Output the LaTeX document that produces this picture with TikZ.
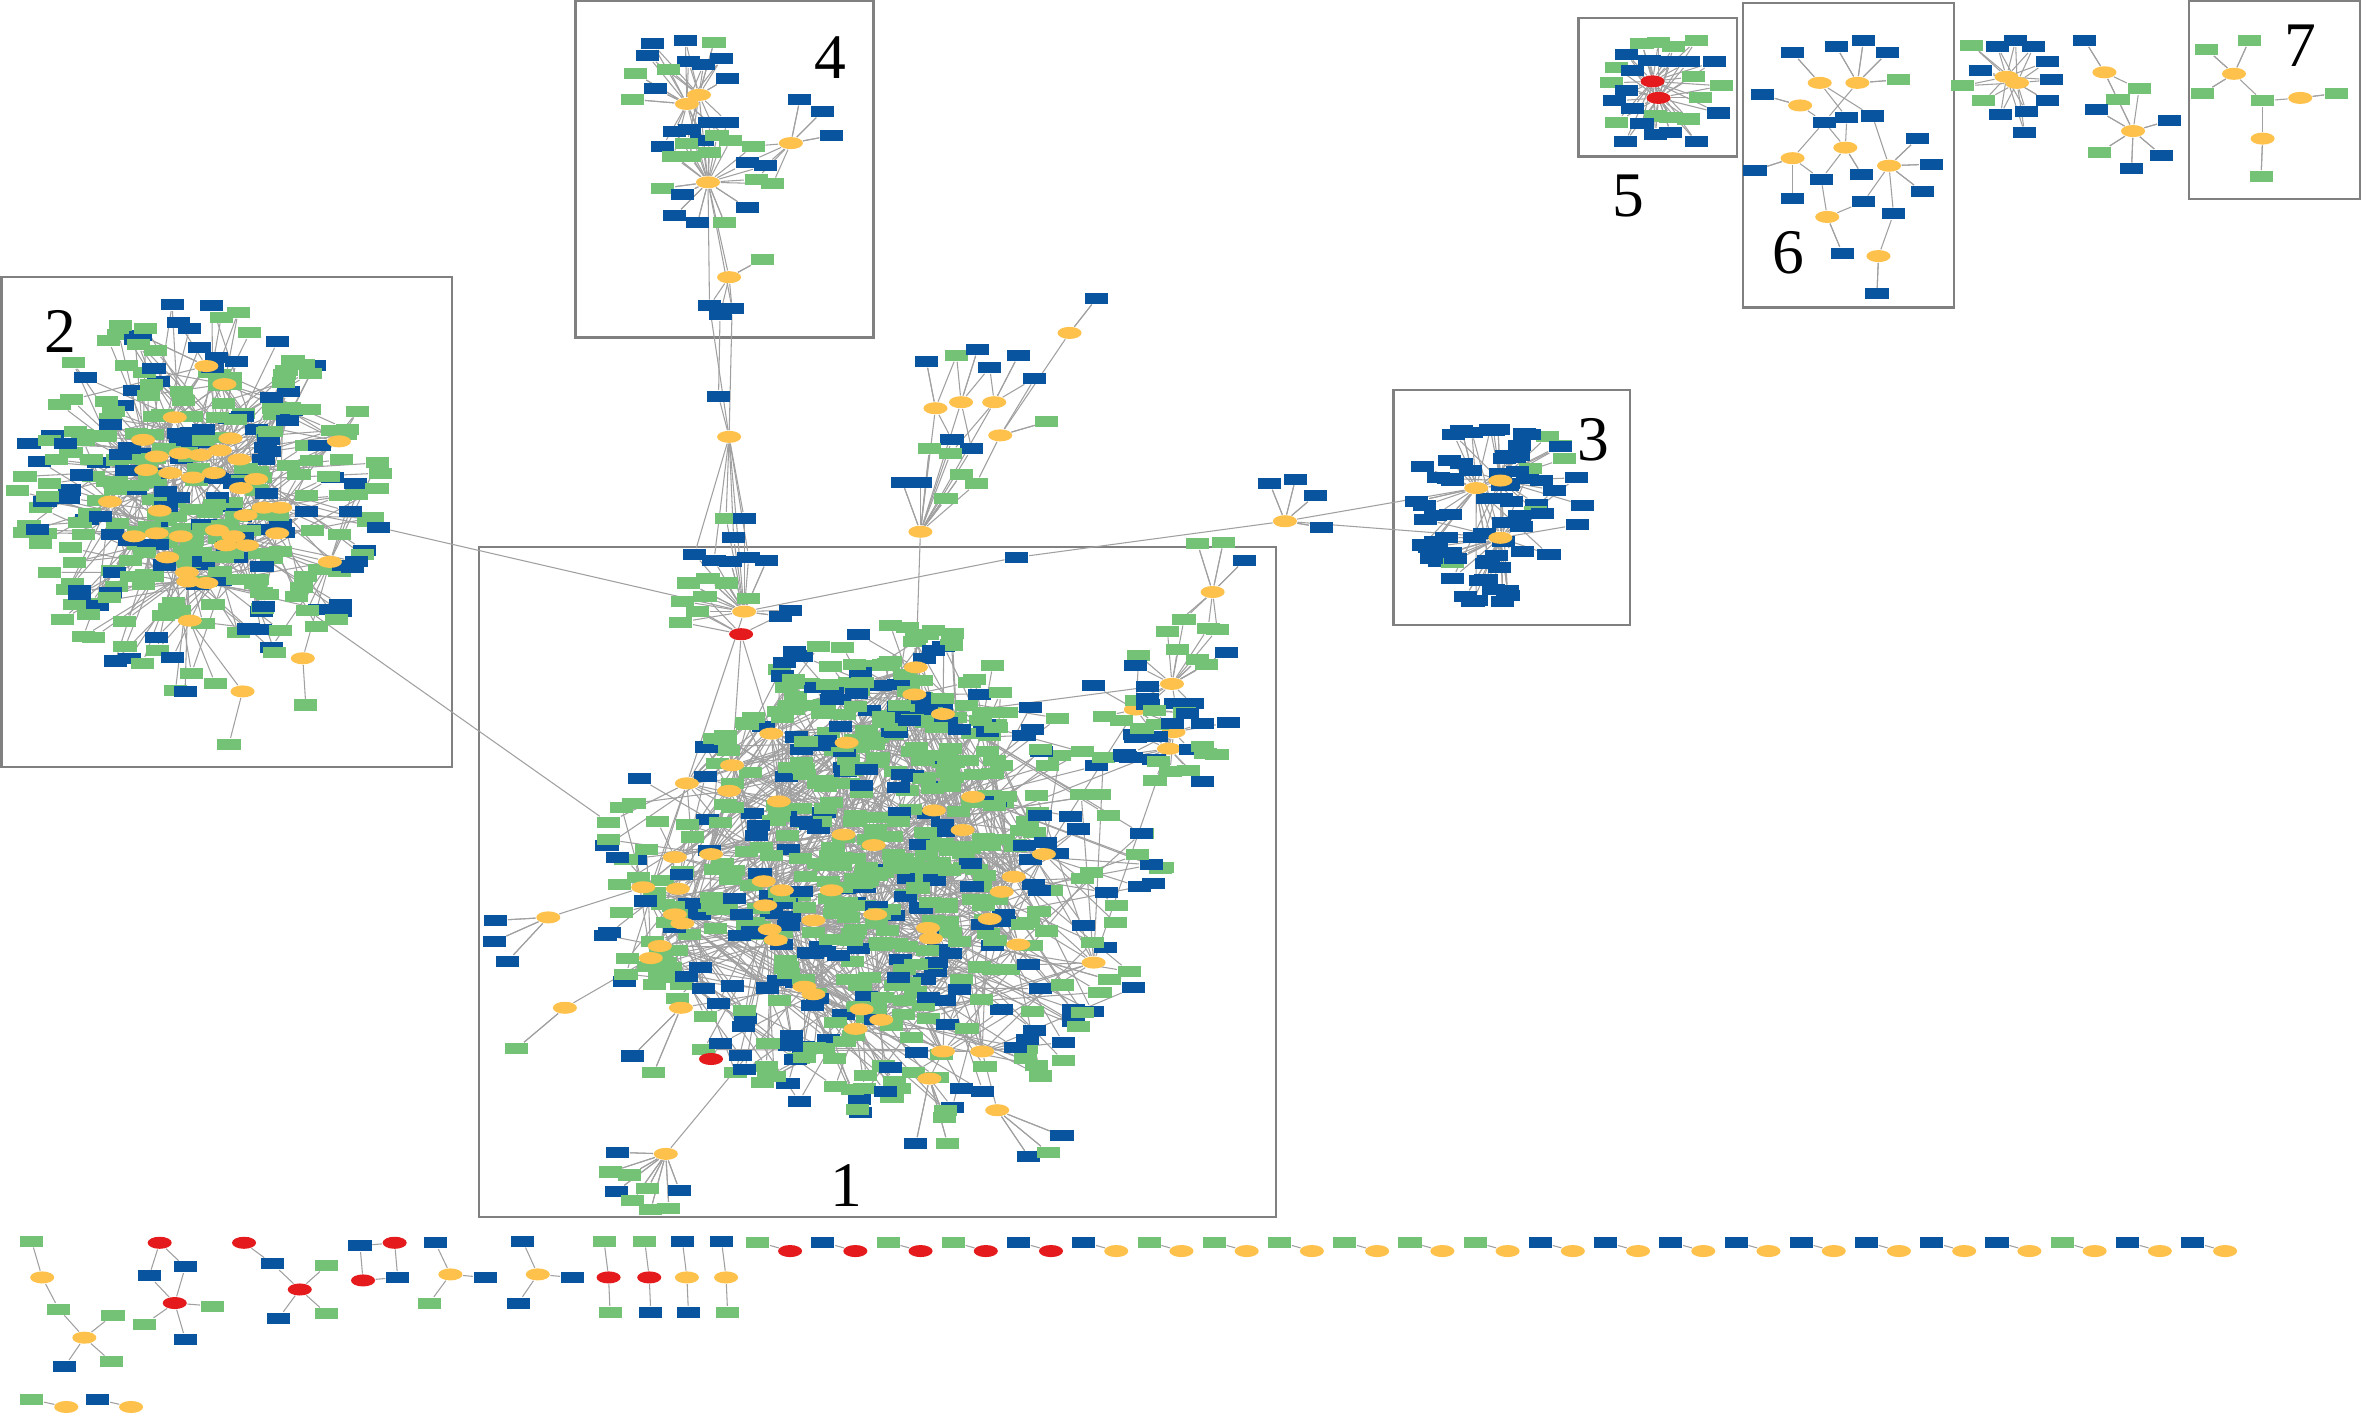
\documentclass[tikz,border=0pt]{standalone}
\usepackage{fontspec}
\setmainfont{Liberation Serif}
\usetikzlibrary{shapes.geometric}
\definecolor{leafgreen}{RGB}{115,194,117}
\definecolor{leafblue}{RGB}{9,84,159}
\definecolor{huborange}{RGB}{254,194,76}
\definecolor{hubred}{RGB}{228,26,28}
\definecolor{linkgray}{RGB}{160,160,160}
\definecolor{framegray}{RGB}{128,128,128}
\pgfdeclarelayer{links}
\pgfdeclarelayer{front}
\pgfsetlayers{links,main,front}
\tikzset{gene/.style={rectangle,minimum width=0.23cm,minimum height=0.11cm,inner sep=0pt}}
\tikzset{geneg/.style={gene,fill=leafgreen}}
\tikzset{geneb/.style={gene,fill=leafblue}}
\tikzset{hub/.style={ellipse,minimum width=0.24cm,minimum height=0.12cm,inner sep=0pt}}
\tikzset{hubo/.style={hub,fill=huborange}}
\tikzset{hubr/.style={hub,fill=hubred}}
\tikzset{link/.style={draw=linkgray,line width=0.3pt}}
\tikzset{frame/.style={draw=framegray,line width=0.7pt}}
\tikzset{tag/.style={font=\fontsize{18}{18}\selectfont,inner sep=0pt}}
% links are collected, then drawn behind the nodes in one go
\gdef\linklist{}
\newcommand{\addlink}[2]{%
  \ifx\linklist\empty\xdef\linklist{#1/#2}\else\xdef\linklist{\linklist,#1/#2}\fi}
\newcommand{\flushlinks}{%
  \begin{pgfonlayer}{links}
  \foreach \la/\lb in \linklist {\draw[link] (\la) -- (\lb);}
  \end{pgfonlayer}
  \gdef\linklist{}}
\def\cloudpow{0.75}
% hubs from a list x/y
\newcommand{\hubs}[2]{%
  \begin{pgfonlayer}{front}
  \foreach \px/\py [count=\n] in {#2}{\node[hubo] (#1\n) at (\px,\py) {};}
  \end{pgfonlayer}}
% leaves from a list x/y/kind/hub/hub
\newcommand{\leaves}[2]{%
  \foreach \px/\py/\kind/\ha/\hb [count=\n] in {#2}{%
    \node[gene\kind] (#1\n) at (\px,\py) {};
    \addlink{#1\n}{\ha}%
    \addlink{#1\n}{\hb}%
  }}
% random leaves round a hub
\newcommand{\leafstar}[5]{%
  \foreach \k in {1,...,#2}{%
    \pgfmathsetmacro\ang{360*rnd}%
    \pgfmathsetmacro\rad{0.45+0.55*rnd}%
    \pgfmathtruncatemacro\isg{rnd<#5}%
    \ifnum\isg=1 \def\kind{g}\else\def\kind{b}\fi
    \node[gene\kind] (#1s\k) at ([shift={({#3*\rad*cos(\ang)},{#4*\rad*sin(\ang)})}]#1) {};
    \addlink{#1s\k}{#1}%
  }}
% random leaf cloud tied to the nearest of four picked hubs
\newcommand{\leafcloud}[9]{%
  \foreach \k in {1,...,#8}{%
    \pgfmathsetmacro\ang{360*rnd}%
    \pgfmathsetmacro\rad{(0.02+0.98*rnd)^\cloudpow}%
    \pgfmathtruncatemacro\isg{rnd<#9}%
    \ifnum\isg=1 \def\kind{g}\else\def\kind{b}\fi
    \node[gene\kind] (#1\k) at ({#4+#6*\rad*cos(\ang)},{#5+#7*\rad*sin(\ang)}) {};
    \pgfpointanchor{#1\k}{center}\pgfgetlastxy{\lx}{\ly}%
    \gdef\bestd{9999}\gdef\best{1}%
    \foreach \j in {1,...,4}{%
      \pgfmathtruncatemacro\cand{random(1,#3)}%
      \pgfpointanchor{#2\cand}{center}\pgfgetlastxy{\hx}{\hy}%
      \pgfmathsetmacro\dd{veclen(\hx-(\lx),\hy-(\ly))}%
      \pgfmathtruncatemacro\better{\dd<\bestd}%
      \ifnum\better=1 \xdef\bestd{\dd}\xdef\best{\cand}\fi
    }%
    \pgfmathtruncatemacro\two{rnd<0.3}%
    \pgfmathtruncatemacro\hb{random(1,#3)}%
    \addlink{#1\k}{#2\best}%
    \ifnum\two=1 \addlink{#1\k}{#2\hb}\fi
  }\flushlinks}

\begin{document}
\begin{tikzpicture}[x=0.015cm,y=-0.015cm]
\useasboundingbox (0,0) rectangle (1568,938);
\pgfmathsetseed{2024}
% frames and numbers
\begin{pgfonlayer}{links}
\draw[frame] (318,363) rectangle (847,808);
\draw[frame] (1,184) rectangle (300,509);
\draw[frame] (925,259) rectangle (1082,415);
\draw[frame] (382,0.8) rectangle (580,224);
\draw[frame] (1048,12) rectangle (1153,104);
\draw[frame] (1157,2) rectangle (1297,204);
\draw[frame] (1453,0.8) rectangle (1566.5,132);
\end{pgfonlayer}
\node[tag] (num1) at (562,787) {1};
\node[tag] (num2) at (40,220) {2};
\node[tag] (num3) at (1058,292) {3};
\node[tag] (num4) at (551,38) {4};
\node[tag] (num5) at (1081,130) {5};
\node[tag] (num6) at (1187,168) {6};
\node[tag] (num7) at (1527,30) {7};

% hubs of the three big clusters
\hubs{c1h}{486/508,484/525,456/520,517/532,512/487,562/493,608/443,607/461,626/474,646/529,
  620/538,580/561,560/554,639/551,693/567,673/582,665/592,657/610,676/627,726/639,
  616/616,618/623,581/607,552/591,507/585,519/591,508/601,472/567,448/569,427/589,
  450/590,448/607,453/613,438/628,432/636,511/617,515/624,540/611,534/655,540/660,
  572/670,585/677,568/683,626/698,652/698}
\hubs{c2h}{137/243,149/255,116/277,95/292,153/291,225/293,104/303,120/301,133/302,146/299,
  159/305,97/312,113/314,128/317,142/314,170/318,160/324,73/333,106/339,175/337,
  186/337,163/342,89/356,104/354,120/356,144/352,155/356,184/354,219/373,150/362,
  164/362,111/370,124/380,137/387,125/386,126/412}
\hubs{c3h}{980/324,996/319,996/357}

% dense clouds
\leafcloud{c2l}{c2h}{36}{133}{330}{122}{130}{330}{0.62}
\leafcloud{c1l}{c1h}{45}{585}{590}{188}{152}{520}{0.68}
\leafcloud{c1u}{c1h}{45}{590}{468}{85}{55}{90}{0.6}
\def\cloudpow{0.55}
\leafcloud{c3l}{c3h}{3}{993}{338}{58}{64}{80}{0.04}

% cluster 4
\node[hubo] (q4a) at (464,63) {};
\node[hubo] (q4b) at (456,69) {};
\node[hubo] (q4c) at (525,95) {};
\node[hubo] (q4d) at (470,121) {};
\node[hubo] (q4e) at (484,184) {};
\leaves{q4l}{433/29/b/q4a/q4b, 455/27/b/q4a/q4b, 474/28/g/q4a/q4a, 430/37/b/q4a/q4b,
  457/41/b/q4a/q4b, 467/43/b/q4a/q4b, 479/39/b/q4a/q4b, 483/52/b/q4a/q4a,
  422/49/g/q4b/q4b, 444/46/g/q4a/q4b, 420/66/g/q4b/q4b, 435/59/b/q4b/q4b,
  531/66/b/q4c/q4c, 546/74/b/q4c/q4c, 552/90/b/q4c/q4c, 483/81/b/q4a/q4d,
  471/81/b/q4b/q4d, 448/87/b/q4b/q4d, 458/86/b/q4a/q4d, 466/93/b/q4b/q4d,
  440/97/b/q4d/q4b, 476/90/g/q4a/q4d, 485/93/g/q4b/q4d, 500/97/g/q4c/q4d,
  456/95/g/q4a/q4d, 447/104/g/q4d/q4b, 458/104/g/q4d/q4a, 471/101/g/q4d/q4b,
  496/108/b/q4c/q4d, 508/110/b/q4c/q4d, 502/119/g/q4d/q4c, 513/122/g/q4c/q4d,
  440/125/g/q4d/q4d, 453/129/b/q4d/q4d, 496/138/b/q4d/q4d, 448/143/b/q4d/q4d,
  463/148/b/q4d/q4d, 481/148/g/q4d/q4d, 506/172/g/q4e/q4e}
\node[geneb] (q4x1) at (471,203) {};
\node[geneb] (q4x2) at (486,205) {};
\node[geneb] (q4x3) at (478,209) {};
\node[geneb] (vbl) at (477,263) {};
\node[hubo] (v) at (484,290) {};
\foreach \la/\lb in {q4a/q4d,q4b/q4d,q4e/q4d,q4x1/q4e,q4x2/q4e,q4x3/q4e,q4x1/q4d,
  q4x2/q4d,q4x1/v,q4x2/v,q4x3/vbl,vbl/v}{\addlink{\la}{\lb}}

% upper left arm of cluster 1
\node[hubo] (t1) at (494,406) {};
\node[hubr] (t2) at (492,421) {};
\leaves{t1l}{482/344/g/v/t1, 494/344/b/v/t1, 487/357/b/v/t1, 461/368/b/v/t1,
  474/372/b/v/t1, 485/373/b/t1/t1, 497/370/b/t1/v, 509/372/b/t1/t1,
  457/387/g/t1/t1, 470/384/g/t1/t1, 482/387/g/t1/t1, 453/399/g/t1/t2,
  468/396/g/t1/t2, 497/397/g/t1/t1, 463/406/g/t1/t2, 452/413/g/t1/t2,
  525/405/b/t1/t2, 518/409/b/t1/t1}

% upper arm
\node[hubo] (u0) at (611,353) {};
\node[hubo] (u1) at (621,271) {};
\node[hubo] (u2) at (638,267) {};
\node[hubo] (u3) at (660,267) {};
\node[hubo] (u4) at (664,289) {};
\node[hubo] (u5) at (710,221) {};
\leaves{u0l}{615/240/b/u1/u1, 635/236/g/u1/u2, 649/232/b/u2/u2, 676/236/b/u3/u3,
  657/244/b/u3/u2, 687/251/b/u4/u3, 695/280/g/u4/u4, 632/292/b/u0/u1,
  645/298/b/u0/u2, 617/298/g/u0/u0, 631/301/g/u0/u3, 638/315/g/u0/u0,
  648/321/g/u0/u4, 599/320/b/u0/u0, 611/320/b/u0/u0, 628/331/g/u0/u0,
  728/198/b/u5/u5}

% link over to cluster 3
\node[geneb] (wm) at (675,370) {};
\node[hubo] (w) at (853,346) {};
\leaves{wl}{843/321/b/w/w, 860/318/b/w/w, 873/329/b/w/w, 877/350/b/w/w}

% right arm
\node[hubo] (rb1) at (805,393) {};
\node[hubo] (rb2) at (778,454) {};
\node[hubo] (rb3) at (754,471) {};
\node[hubo] (rb4) at (779,486) {};
\node[hubo] (rb5) at (776,497) {};
\leaves{rb1l}{795/361/g/rb1/rb1, 812/360/g/rb1/rb1, 826/372/b/rb1/rb1, 786/411/g/rb1/rb2,
  775/419/g/rb1/rb2, 802/417/g/rb1/rb2, 808/418/g/rb1/rb2, 756/435/g/rb2/rb3,
  814/433/b/rb2/rb2, 795/438/g/rb2/rb2}
\leafstar{rb2}{8}{40}{25}{0.4}
\leafstar{rb3}{8}{40}{28}{0.6}
\leafstar{rb4}{10}{45}{28}{0.4}
\leafstar{rb5}{10}{45}{28}{0.6}

% left and lower arms
\node[hubo] (lh1) at (364,609) {};
\leaves{lh1l}{329/611/b/lh1/lh1, 328/625/b/lh1/lh1, 337/638/b/lh1/lh1}
\node[hubo] (lh2) at (375,669) {};
\leaves{lh2l}{343/696/g/lh2/lh2}
\node[hubo] (lh3) at (452,669) {};
\leaves{lh3l}{420/701/b/lh3/lh3, 434/712/g/lh3/lh3}
\node[hubr] (lr) at (472,703) {};
\node[geneb] (lrb) at (478,693) {};
\node[hubo] (bl) at (442,766) {};
\leaves{bll}{410/765/b/bl/bl, 409/791/b/bl/bl, 451/790/b/bl/bl, 405/778/g/bl/bl,
  418/780/g/bl/bl, 430/789/g/bl/bl, 420/797/g/bl/bl, 432/803/g/bl/bl, 444/802/g/bl/bl}
\node[hubo] (br1) at (662,737) {};
\leaves{br1l}{705/754/b/br1/br1, 683/768/b/br1/br1, 696/765/g/br1/br1}
\node[hubo] (br2) at (617,716) {};
\leaves{br2l}{608/759/b/br2/br2, 629/759/g/br2/br2, 627/742/g/br2/br2}

% ties between clusters
\node[geneb] (x2a) at (251,350) {};
\node[geneg] (x2b) at (204,405) {};
\node[geneg] (x1a) at (404,546) {};
\node[hubo] (o2a) at (201,437) {};
\node[geneg] (o2ag) at (203,468) {};
\node[hubo] (o2b) at (161,459) {};
\node[geneg] (o2bg) at (152,494) {};
\foreach \la/\lb in {v/t1,t1/wm,wm/w,w/c3h1,w/c3h3,u0/u1,u0/u2,u0/u3,u4/u5,u0/c1h7,
  t1/c1h3,t2/c1h5,t2/c1h1,rb2/c1h9,rb3/c1h15,rb4/c1h20,rb5/c1h14,lh1/c1h30,
  lh2/c1h35,lh3/c1h39,lr/lrb,lrb/c1h40,bl/c1h39,br1/c1h45,br2/c1h44,x2a/c2h21,
  x2a/t1,x2b/c2h29,x2b/x1a,x1a/c1h3,o2a/o2ag,o2a/c2h29,o2b/o2bg,o2b/c2h36}{\addlink{\la}{\lb}}

% cluster 5
\node[hubr] (k1) at (1097,54) {};
\node[hubr] (k2) at (1101,65) {};
\leaves{k5l}{1090/29/g/k1/k2, 1101/28/g/k1/k2, 1111/31/g/k1/k2, 1126/27/g/k1/k2,
  1080/36/b/k1/k2, 1095/40/b/k1/k2, 1109/41/b/k1/k2, 1121/41/b/k1/k2, 1138/41/b/k1/k2,
  1073/45/g/k1/k2, 1084/47/b/k1/k2, 1124/51/g/k1/k2, 1143/57/g/k1/k2, 1070/55/g/k1/k2,
  1080/60/b/k1/k2, 1129/65/g/k1/k2, 1072/67/b/k1/k2, 1084/72/b/k1/k2, 1141/75/b/k1/k2,
  1073/81/g/k1/k2, 1099/77/g/k1/k2, 1109/78/g/k1/k2, 1121/79/g/k1/k2, 1090/82/b/k1/k2,
  1099/89/b/k1/k2, 1109/88/b/k1/k2, 1079/94/b/k1/k2, 1126/94/b/k1/k2}

% cluster 6
\node[hubo] (f1) at (1208,55) {};
\node[hubo] (f2) at (1233,55) {};
\node[hubo] (f3) at (1195,70) {};
\node[hubo] (f4) at (1225,98) {};
\node[hubo] (f5) at (1190,105) {};
\node[hubo] (f6) at (1254,110) {};
\node[hubo] (f7) at (1213,144) {};
\node[hubo] (f8) at (1247,170) {};
\leaves{f6l}{1190/35/b/f1/f1, 1219/31/b/f2/f2, 1237/27/b/f2/f2, 1253/35/b/f2/f2,
  1260/53/g/f2/f2, 1170/63/b/f3/f3, 1211/81/b/f2/f3, 1226/78/b/f1/f4,
  1243/77/b/f1/f6, 1273/92/b/f6/f6, 1282/109/b/f6/f6, 1165/113/b/f5/f5,
  1209/119/b/f4/f7, 1236/116/b/f4/f4, 1276/127/b/f6/f6, 1190/132/b/f5/f5,
  1237/134/b/f6/f7, 1257/142/b/f6/f8, 1223/168/b/f7/f7, 1246/195/b/f8/f8}
\addlink{f6l7}{f4}\addlink{f6l7}{f5}\addlink{f6l13}{f5}

% small stars right of cluster 6
\node[hubo] (m1) at (1332,51) {};
\node[hubo] (m2) at (1339,55) {};
\leaves{m8l}{1309/30/g/m1/m2, 1326/31/b/m1/m2, 1338/27/b/m1/m2, 1350/31/b/m1/m2,
  1359/41/b/m1/m2, 1315/47/b/m1/m2, 1362/53/b/m1/m2, 1303/57/g/m1/m2,
  1317/67/g/m1/m2, 1359/67/b/m1/m2, 1328/76/b/m1/m2, 1345/74/b/m1/m2, 1344/88/b/m1/m2}
\node[hubo] (n1) at (1397,48) {};
\node[hubo] (n2) at (1416,87) {};
\leaves{n9l}{1384/27/b/n1/n1, 1420/59/g/n1/n2, 1406/66/g/n1/n2, 1392/73/b/n2/n2,
  1440/80/b/n2/n2, 1394/101/g/n2/n2, 1435/103/b/n2/n2, 1415/112/b/n2/n2}
\addlink{n1}{n2}

% cluster 7
\node[hubo] (p1) at (1483,49) {};
\node[hubo] (p2) at (1527,65) {};
\node[hubo] (p3) at (1502,92) {};
\leaves{p7l}{1465/33/g/p1/p1, 1493/27/g/p1/p1, 1462/62/g/p1/p1, 1502/67/g/p1/p2,
  1551/62/g/p2/p2, 1501/117/g/p3/p3}
\addlink{p7l4}{p3}

% small pieces, bottom left
\node[geneg] (za1) at (21,824) {};
\node[hubo] (za2) at (28,848) {};
\node[geneg] (za3) at (39,869) {};
\node[hubo] (za4) at (56,888) {};
\node[geneg] (za5) at (75,873) {};
\node[geneb] (za6) at (43,907) {};
\node[geneg] (za7) at (74,904) {};
\node[hubr] (zb1) at (106,825) {};
\node[geneb] (zb2) at (123,841) {};
\node[geneb] (zb3) at (99,847) {};
\node[hubr] (zb4) at (116,865) {};
\node[geneg] (zb5) at (141,867) {};
\node[geneg] (zb6) at (96,879) {};
\node[geneb] (zb7) at (123,889) {};
\node[hubr] (zc1) at (162,825) {};
\node[geneb] (zc2) at (181,839) {};
\node[geneg] (zc3) at (217,840) {};
\node[hubr] (zc4) at (199,856) {};
\node[geneb] (zc5) at (185,875) {};
\node[geneg] (zc6) at (217,872) {};
\node[geneb] (zd1) at (239,827) {};
\node[hubr] (zd2) at (262,825) {};
\node[hubr] (zd3) at (241,850) {};
\node[geneb] (zd4) at (264,848) {};
\node[geneb] (ze1) at (289,825) {};
\node[hubo] (ze2) at (299,846) {};
\node[geneb] (ze3) at (322,848) {};
\node[geneg] (ze4) at (285,865) {};
\node[geneb] (zf1) at (347,824) {};
\node[hubo] (zf2) at (357,846) {};
\node[geneb] (zf3) at (380,848) {};
\node[geneb] (zf4) at (344,865) {};
\node[geneg] (zk1) at (21,929) {};
\node[hubo] (zk2) at (44,934) {};
\node[geneb] (zk3) at (65,929) {};
\node[hubo] (zk4) at (87,934) {};
\foreach \la/\lb in {za1/za2,za2/za3,za3/za4,za4/za5,za4/za6,za4/za7,zb1/zb2,zb1/zb3,
  zb2/zb4,zb3/zb4,zb4/zb5,zb4/zb6,zb4/zb7,zc1/zc2,zc2/zc4,zc3/zc4,zc4/zc5,zc4/zc6,
  zd1/zd2,zd1/zd3,zd2/zd4,zd3/zd4,ze1/ze2,ze2/ze3,ze2/ze4,zf1/zf2,zf2/zf3,zf2/zf4,
  zk1/zk2,zk3/zk4}{\addlink{\la}{\lb}}
\foreach \px/\ta/\mk/\tb [count=\n] in {401/g/r/g,428/g/r/b,453/b/o/b,479/b/o/g}{
  \node[gene\ta] (vt\n) at (\px,824) {};
  \node[hub\mk] (vm\n) at (\px+3,848) {};
  \node[gene\tb] (vw\n) at (\px+4,871) {};
  \addlink{vt\n}{vm\n}\addlink{vm\n}{vw\n}
}
% row of pairs
\foreach \kind [count=\n] in {g,b,g,g,b,b,g,g,g,g,g,g,b,b,b,b,b,b,b,b,g,b,b}{
  \pgfmathsetmacro\px{503+43.3*(\n-1)}
  \ifnum\n<6 \def\mk{r}\else\def\mk{o}\fi
  \node[gene\kind] (pr\n) at (\px,824.5) {};
  \node[hub\mk] (pe\n) at (\px+21.5,830.5) {};
  \addlink{pr\n}{pe\n}
}
\flushlinks
\end{tikzpicture}
\end{document}
